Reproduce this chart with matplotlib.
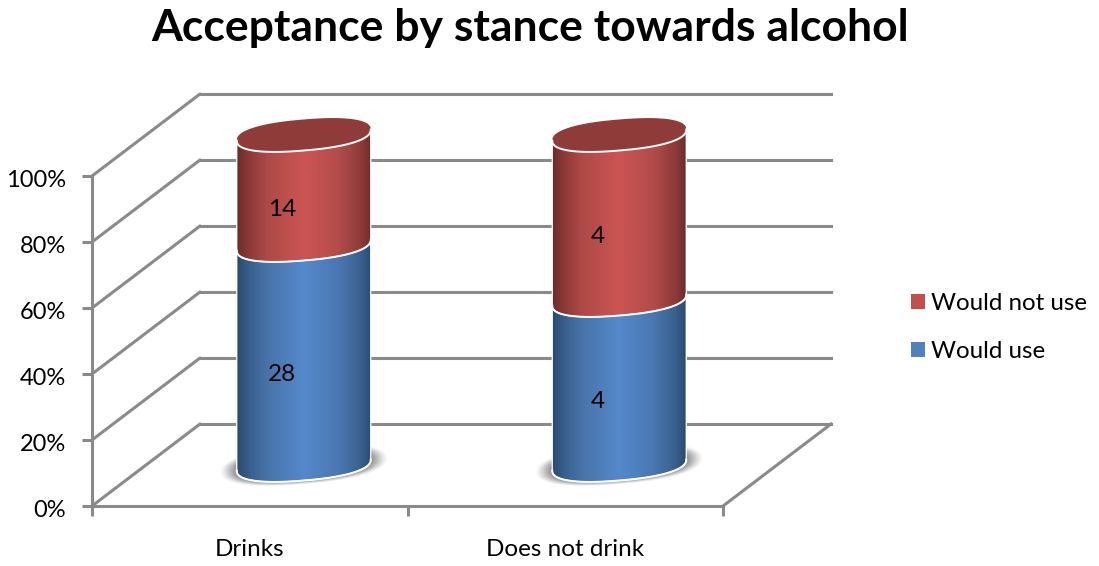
import numpy as np
import matplotlib
matplotlib.use('Agg')
import matplotlib.pyplot as plt
from matplotlib.colors import LinearSegmentedColormap
from matplotlib.patches import Patch, Polygon
from matplotlib.transforms import ScaledTranslation

categories = ['Drinks', 'Does not drink']
would_use = [28, 4]
would_not_use = [14, 4]
y_ticks = [0, 20, 40, 60, 80, 100]
y_labels = ['0%', '20%', '40%', '60%', '80%', '100%']
title = 'Acceptance by stance towards alcohol'

GREY = '#8a8a8a'
BLUE = '#4f81bd'
RED = '#c0504d'
TEXT = '#000000'
FONT = ['Lato', 'DejaVu Sans']

plt.rcParams['font.family'] = FONT

W, H = 1099, 566
fig = plt.figure(figsize=(W / 100, H / 100), dpi=100, facecolor='white')
# axes is the front plane of the box, everything else hangs off it with clip off
L, R, T, B = 92, 723, 176, 506
ax = fig.add_axes([L / W, 1 - B / H, (R - L) / W, (B - T) / H])
ax.set_xlim(0, 2)
ax.set_ylim(0, 100)
ax.patch.set_visible(False)

# pixels to data units
ux = 2 / (R - L)
uy = 100 / (B - T)
depth_x = 108 * ux
depth_y = 82 * uy
LW = 2.2

# walls and floor
for v in y_ticks:
    ax.plot([0, depth_x], [v, v + depth_y], color=GREY, lw=LW, clip_on=False, zorder=1,
            solid_capstyle='round')
    ax.plot([depth_x, 2 + depth_x], [v + depth_y, v + depth_y], color=GREY, lw=LW,
            clip_on=False, zorder=1)
ax.plot([2, 2 + depth_x], [0, depth_y], color=GREY, lw=LW, clip_on=False, zorder=1)

for s in ['top', 'right']:
    ax.spines[s].set_visible(False)
for s in ['left', 'bottom']:
    ax.spines[s].set_color(GREY)
    ax.spines[s].set_linewidth(LW)
    ax.spines[s].set_zorder(1)

ax.set_yticks(y_ticks, y_labels)
ax.set_xticks([0, 1, 2], ['', '', ''])
ax.set_xticks([0.5, 1.5], categories, minor=True)
ax.tick_params(axis='y', length=7.5, width=LW, color=GREY, labelsize=17, pad=11, labelcolor=TEXT)
ax.tick_params(axis='x', which='major', length=7.5, width=LW, color=GREY)
ax.tick_params(axis='x', which='minor', length=0, labelsize=17.5, pad=24, labelcolor=TEXT)
# percent labels sit a little under their ticks
nudge = ScaledTranslation(0, -2.5 / 100, fig.dpi_scale_trans)
for lab in ax.get_yticklabels():
    lab.set_transform(lab.get_transform() + nudge)

# cylinder shape, in pixels before conversion
rx = 67 * ux
ry = 15.5 * uy
skew = 5.5 * uy
cmap_blue = LinearSegmentedColormap.from_list('b', [(0, '#2b4a70'), (0.1, '#3a618f'), (0.22, '#4873a8'),
                                                    (0.5, '#5589cc'), (0.75, '#4a78b2'),
                                                    (0.92, '#3a608e'), (1, '#2b4a70')])
cmap_red = LinearSegmentedColormap.from_list('r', [(0, '#6b2c2b'), (0.1, '#8f3b39'), (0.22, '#ad4947'),
                                                   (0.5, '#cc5553'), (0.75, '#b34c4a'),
                                                   (0.92, '#8d3b39'), (1, '#6b2c2b')])


def rim(cx, level, start, stop, scale=1.0):
    # slightly squared ellipse, the corners of the barrel are full
    t = np.linspace(start, stop, 120)
    c = np.sign(np.cos(t)) * np.abs(np.cos(t)) ** 0.85
    s = np.sign(np.sin(t)) * np.abs(np.sin(t)) ** 0.85
    return (cx + scale * rx * c,
            level + scale * (skew * c + ry * s))


def draw_segment(cx, low, high, cmap, z):
    x0, y0 = rim(cx, low, np.pi, 2 * np.pi)
    x1, y1 = rim(cx, high, 0, np.pi)
    pts = np.column_stack([np.r_[x0, x1], np.r_[y0, y1]])
    body = Polygon(pts, closed=True, facecolor='none', edgecolor='white', lw=0.9,
                   transform=ax.transData, clip_on=False, zorder=z + 1)
    ax.add_patch(body)
    im = ax.imshow(np.linspace(0, 1, 256)[None, :], cmap=cmap, aspect='auto',
                   extent=[cx - rx, cx + rx, low - 2 * ry, high + 2 * ry], zorder=z)
    im.set_clip_box(fig.bbox)
    im.set_clip_path(Polygon(pts, transform=ax.transData))
    # white rim across the front of the segment
    ax.plot(x0, y0, color='white', lw=1.4, clip_on=False, zorder=z + 2)


for i in range(len(categories)):
    cx = i + 0.5 + depth_x / 2
    base = depth_y / 2
    total = would_use[i] + would_not_use[i]
    split = would_use[i] / total * 100

    # soft floor shadow
    for sc, a in zip(np.linspace(1.24, 1.0, 14), np.linspace(0.03, 0.11, 14)):
        sx, sy = rim(cx, base, 0, 2 * np.pi, sc)
        ax.fill(sx, sy, color='#505050', alpha=a, lw=0, clip_on=False, zorder=2)

    draw_segment(cx, base, base + split, cmap_blue, 3)
    draw_segment(cx, base + split, base + 100, cmap_red, 6)

    # top cap
    tx, ty = rim(cx, base + 100, 0, 2 * np.pi)
    ax.fill(tx, ty, color='#8e3b39', lw=0, clip_on=False, zorder=9)
    fx, fy = rim(cx, base + 100, np.pi, 2 * np.pi)
    ax.plot(fx, fy, color='white', lw=1.4, clip_on=False, zorder=10)

    # counts sit on the front of the barrel
    lx = i + 0.5 + 0.3 * depth_x
    ly = 0.3 * depth_y - 3 * uy
    ax.text(lx, ly + split / 2, str(would_use[i]), ha='center', va='center', fontsize=17.5,
            color=TEXT, zorder=12)
    ax.text(lx, ly + split + (100 - split) / 2, str(would_not_use[i]), ha='center', va='center',
            fontsize=17.5, color=TEXT, zorder=12)

ax.set_xlim(0, 2)
ax.set_ylim(0, 100)

handles = [Patch(facecolor=RED, label='Would not use'), Patch(facecolor=BLUE, label='Would use')]
fig.legend(handles=handles, loc='upper left', bbox_to_anchor=(911 / W, 1 - 293 / H), frameon=False,
           fontsize=17.4, handlelength=0.57, handleheight=0.57, handletextpad=0.26, labelspacing=1.13,
           borderpad=0, borderaxespad=0, labelcolor=TEXT)

fig.text(530 / W, 1 - 28 / H, title, ha='center', va='center', fontsize=32, fontweight='bold', color=TEXT)

fig.savefig('out.png', dpi=100)
